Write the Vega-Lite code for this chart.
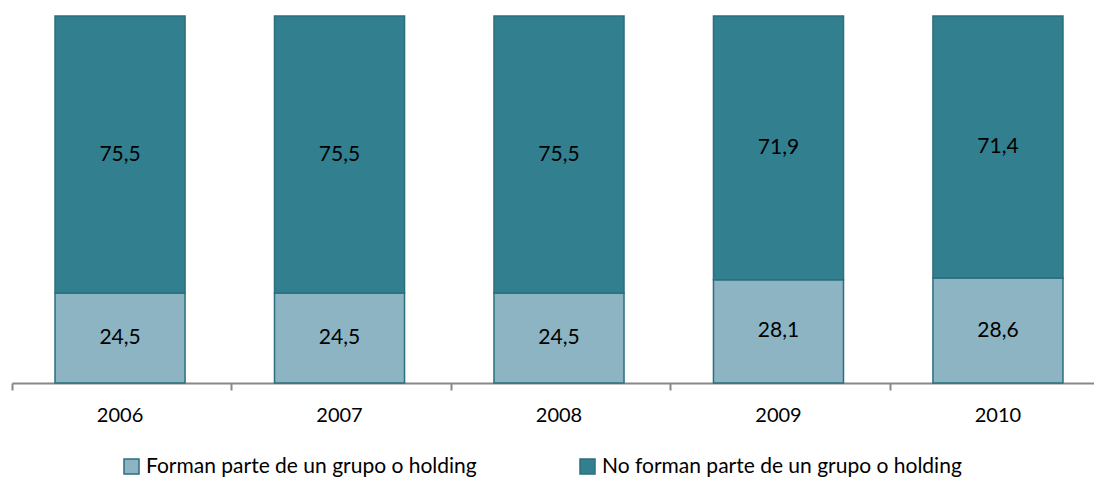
{
  "$schema": "https://vega.github.io/schema/vega-lite/v6.json",
  "width": 1082,
  "height": 367,
  "autosize": {"type": "none"},
  "padding": {"left": 12, "top": 16, "right": 0, "bottom": 99},
  "background": "white",
  "config": {
    "view": {"stroke": null},
    "font": "Lato",
    "locale": {"number": {"decimal": ",", "thousands": ".", "grouping": [3], "currency": ["", " €"]}}
  },
  "data": {
    "values": [
      {"year": "2006", "series": "Forman parte de un grupo o holding", "value": 24.5},
      {"year": "2007", "series": "Forman parte de un grupo o holding", "value": 24.5},
      {"year": "2008", "series": "Forman parte de un grupo o holding", "value": 24.5},
      {"year": "2009", "series": "Forman parte de un grupo o holding", "value": 28.1},
      {"year": "2010", "series": "Forman parte de un grupo o holding", "value": 28.6},
      {"year": "2006", "series": "No forman  parte de un grupo o holding", "value": 75.5},
      {"year": "2007", "series": "No forman  parte de un grupo o holding", "value": 75.5},
      {"year": "2008", "series": "No forman  parte de un grupo o holding", "value": 75.5},
      {"year": "2009", "series": "No forman  parte de un grupo o holding", "value": 71.9},
      {"year": "2010", "series": "No forman  parte de un grupo o holding", "value": 71.4}
    ]
  },
  "transform": [
    {"stack": "value", "groupby": ["year"], "sort": [{"field": "series", "order": "ascending"}], "as": ["y0", "y1"]}
  ],
  "layer": [
    {
      "mark": {"type": "bar", "stroke": "#2B6F7E", "strokeWidth": 1.5},
      "encoding": {
        "x": {
          "field": "year", "type": "nominal",
          "scale": {"range": [0, 1094], "paddingInner": 0.4075, "paddingOuter": 0.196},
          "axis": {
            "title": null, "labelAngle": 0, "labelFontSize": 20, "labelColor": "#000000",
            "labelPadding": 15, "domainColor": "#888888", "domainWidth": 2,
            "tickColor": "#888888", "tickWidth": 2, "tickSize": 7, "bandPosition": -0.33
          }
        },
        "y": {"field": "y0", "type": "quantitative", "scale": {"domain": [0, 100]}, "axis": null},
        "y2": {"field": "y1"},
        "color": {
          "field": "series", "type": "nominal",
          "scale": {"domain": ["Forman parte de un grupo o holding", "No forman  parte de un grupo o holding"], "range": ["#8DB4C2", "#317F8F"]},
          "legend": {
            "title": null, "orient": "none", "direction": "horizontal",
            "legendX": 109, "legendY": 440,
            "symbolType": "square", "symbolSize": 225, "symbolStrokeColor": "#2B6F7E", "symbolStrokeWidth": 1.5,
            "labelFontSize": 21, "labelColor": "#000000", "labelOffset": 4, "columnPadding": 100, "labelLimit": 500
          }
        }
      }
    },
    {
      "transform": [
        {"fold": ["y0", "y1"], "as": ["k", "v"]},
        {"aggregate": [{"op": "mean", "field": "v", "as": "mid"}], "groupby": ["year", "series", "value"]}
      ],
      "mark": {"type": "text", "fontSize": 21, "color": "#000000", "baseline": "middle", "align": "center"},
      "encoding": {
        "x": {"field": "year", "type": "nominal"},
        "y": {"field": "mid", "type": "quantitative"},
        "text": {"field": "value", "type": "quantitative", "format": ".1f"}
      }
    }
  ]
}
